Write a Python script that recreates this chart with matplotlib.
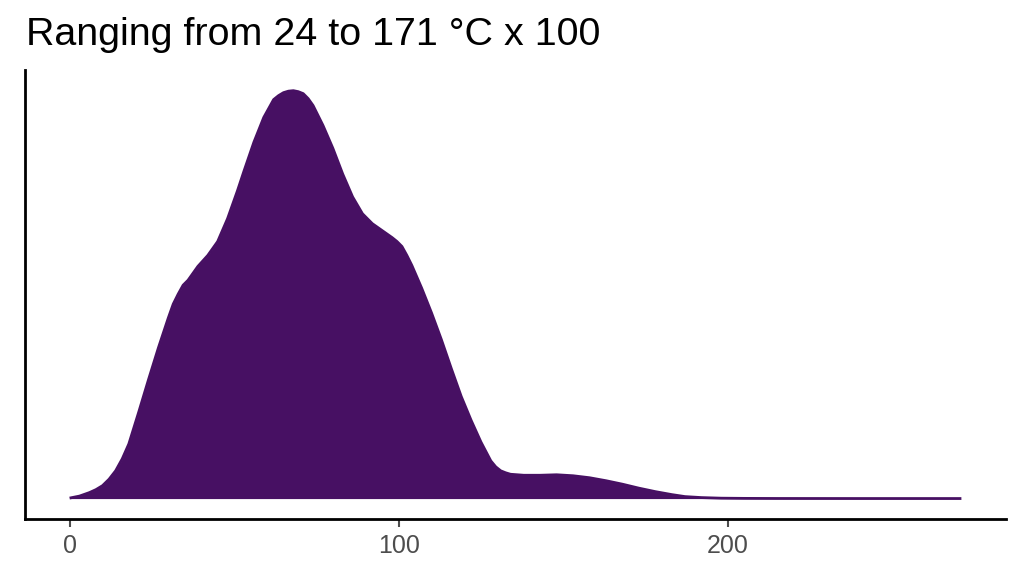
import matplotlib.pyplot as plt
import numpy as np

# temperature (°C x 100) and density height (arbitrary units)
temp = [0, 3, 6, 8, 10, 12, 14, 16, 18, 21, 24, 27, 30, 31.5, 33, 34.5, 36,
        39, 42, 45, 48, 51, 53, 56, 59, 62, 63.5, 65, 66.5, 68, 69.5, 71,
        72.5, 74, 77, 80, 83, 86, 89, 92, 95, 98, 99.5, 101, 102.5, 104, 107,
        110, 113, 116, 119, 122, 125, 128, 129.5, 131, 132.5, 134, 138, 143,
        148, 153, 158, 163, 168, 173, 178, 183, 187, 192, 198, 205, 215, 240,
        271]
density = [0.5, 2.5, 6, 9, 13, 19.5, 28, 40, 55, 87, 120, 152, 182, 196, 206,
           215, 220, 234, 245, 259, 282, 310, 330, 359, 384, 402, 406, 409,
           410.5, 411, 410, 408, 403, 396, 376, 353, 327, 304, 287, 277, 270,
           263, 259, 254, 245, 235, 212, 187, 160, 131, 103, 79, 57, 38, 32,
           28, 26, 24.5, 23.5, 23.5, 24, 23, 21, 18, 14.5, 10.5, 7, 4, 2, 1,
           0.4, 0.2, 0.1, 0.05, 0.05]

title = "Ranging from 24 to 171 °C x 100"
xticks = [0, 100, 200]
fill_color = "#471063"

plt.rcParams['font.family'] = ['Liberation Sans', 'DejaVu Sans']

fig = plt.figure(figsize=(10.24, 5.76), dpi=100)
ax = fig.add_axes([0.0244, 0.099, 0.958, 0.779])

x = np.array(temp, dtype=float)
y = np.array(density, dtype=float)
ax.fill_between(x, 0, y, color=fill_color, lw=0)
ax.plot(x, y, color=fill_color, lw=2, solid_capstyle='butt',
        solid_joinstyle='round')

xr = x.max() - x.min()
ax.set_xlim(x.min() - 0.05 * xr, x.max() + 0.05 * xr)
ax.set_ylim(-0.05 * y.max(), 1.05 * y.max())

ax.set_xticks(xticks)
ax.set_yticks([])
ax.tick_params(axis='x', colors='#4d4d4d', labelsize=18, length=6, width=1.5,
               pad=5)

for side in ['top', 'right']:
    ax.spines[side].set_visible(False)
for side in ['left', 'bottom']:
    ax.spines[side].set_linewidth(2)
    ax.spines[side].set_color('black')

fig.text(0.0254, 0.922, title, fontsize=28.4, ha='left', va='baseline',
         color='black')

fig.savefig("out.png", dpi=100)
